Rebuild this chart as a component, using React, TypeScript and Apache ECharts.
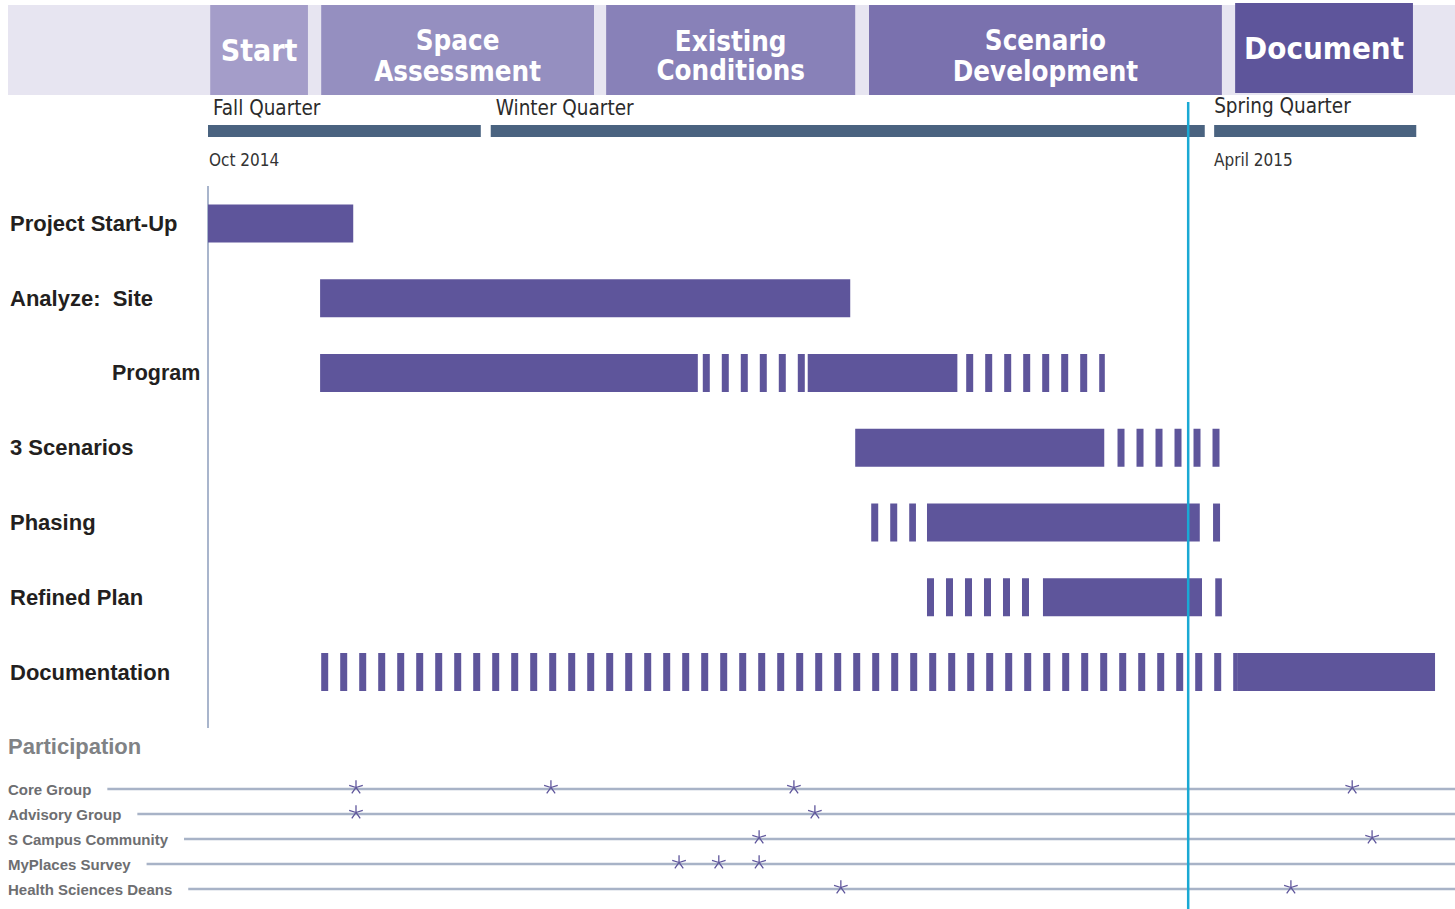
import React, { useEffect, useRef } from "react";
import * as echarts from "echarts";

// x unit: days since 1 Oct 2014
const X_MIN = 0;
const X_MAX = 225;

const phaseNames = ["Start", "Space\nAssessment", "Existing\nConditions", "Scenario\nDevelopment", "Document"];
const phaseStart = [0.4, 20.5, 72.1, 119.7, 186.0];
const phaseEnd = [18.1, 69.9, 117.2, 183.6, 218.2];
const currentPhase = 4;

const quarterNames = ["Fall Quarter", "Winter Quarter", "Spring Quarter"];
const quarterStart = [0, 51.2, 182.2];
const quarterEnd = [49.4, 180.5, 218.8];

const dateLabels = ["Oct 2014", "April 2015"];
const dateDays = [0, 182];

const todayDay = 177.5;

const tasks = ["Project Start-Up", "Analyze:  Site", "Program", "3 Scenarios", "Phasing", "Refined Plan", "Documentation"];

// row, start day, end day, solid (1) or tentative/dashed (0)
const segRow = [0, 1, 2, 2, 2, 2, 3, 3, 4, 4, 4, 5, 5, 5, 6, 6];
const segStart = [0, 20.3, 20.3, 89.6, 108.6, 137.3, 117.2, 164.7, 120.1, 130.2, 182.0, 130.2, 151.2, 182.4, 20.5, 186.5];
const segEnd = [26.3, 116.3, 88.7, 108.1, 135.7, 162.4, 162.3, 183.3, 128.2, 179.6, 183.3, 148.9, 180.0, 183.6, 186.5, 222.2];
const segSolid = [1, 1, 1, 0, 1, 0, 1, 0, 0, 1, 0, 0, 1, 0, 0, 1];

const groups = ["Core Group", "Advisory Group", "S Campus Community", "MyPlaces Survey", "Health Sciences Deans"];
const meetingDay = [26.8, 62.1, 106.1, 207.2, 26.8, 109.9, 99.8, 210.8, 85.3, 92.5, 99.8, 114.6, 196.1];
const meetingGroup = [0, 0, 0, 0, 1, 1, 2, 2, 3, 3, 3, 4, 4];

// styles
const BAR = "#5e559b";
const PHASE_COLORS = ["#a49dc9", "#958fc0", "#8881b8", "#7a71ae", "#5e559b"];
const HEADER_BG = "#e7e5f1";
const QUARTER = "#4a6380";
const TODAY = "#1aa9d4";
const AXIS = "#a9b5cc";
const PLINE = "#a8b3c7";
const NARROW = "'DejaVu Sans Condensed', 'Liberation Sans Narrow', sans-serif";
const SANS = "'Liberation Sans', Arial, sans-serif";

function asteriskPath(): string {
  const len = 10;
  const w = 1.8;
  let d = "";
  for (let i = 0; i < 5; i++) {
    const a = ((-90 + i * 72) * Math.PI) / 180;
    const c = Math.cos(a);
    const s = Math.sin(a);
    const px = (-s * w) / 2;
    const py = (c * w) / 2;
    const f = (n: number) => n.toFixed(3);
    d += `M${f(px)},${f(py)}L${f(c * len + px)},${f(s * len + py)}L${f(c * len - px)},${f(s * len - py)}L${f(-px)},${f(-py)}Z`;
  }
  return "path://" + d;
}

function buildOption(): any {
  const gridLeft = 208;
  const gridRight = 4.5;
  const grids = [
    { left: gridLeft, right: gridRight, top: 5, height: 90 },
    { left: gridLeft, right: gridRight, top: 125, height: 12 },
    { left: gridLeft, right: gridRight, top: 186, height: 523.5 },
    { left: gridLeft, right: gridRight, top: 776.5, height: 125 },
  ];
  const xAxis = grids.map((_, i) => ({ type: "value", gridIndex: i, min: X_MIN, max: X_MAX, show: false }));
  const yAxis: any[] = [
    { type: "value", gridIndex: 0, min: 0, max: 1, show: false },
    { type: "value", gridIndex: 1, min: 0, max: 1, show: false },
    {
      type: "category",
      gridIndex: 2,
      data: tasks,
      inverse: true,
      axisLine: { show: false },
      axisTick: { show: false },
      splitLine: { show: false },
      axisLabel: {
        align: "left",
        margin: 198,
        fontFamily: SANS,
        fontSize: 22,
        fontWeight: "bold",
        color: "#231f20",
        formatter: (v: string) => (v === "Program" ? "{ind|" + v + "}" : v),
        rich: {
          ind: {
            padding: [0, 0, 0, 102],
            fontFamily: SANS,
            fontSize: 21.5,
            fontWeight: "bold",
            color: "#231f20",
          },
        },
      },
    },
    { type: "category", gridIndex: 3, data: groups, inverse: true, show: false },
  ];

  const series: any[] = [
    {
      type: "custom",
      name: "phases",
      xAxisIndex: 0,
      yAxisIndex: 0,
      clip: false,
      data: phaseNames.map((_, i) => [phaseStart[i], 0.5, phaseEnd[i]]),
      encode: { x: [0, 2], y: 1 },
      renderItem: (params: any, api: any) => {
        const i = params.dataIndex;
        const a = api.coord([api.value(0), 0.5])[0];
        const b = api.coord([api.value(2), 0.5])[0];
        const cs = params.coordSys;
        const emph = i === currentPhase;
        const top = cs.y - (emph ? 2 : 0);
        const two = phaseNames[i].indexOf("\n") >= 0;
        return {
          type: "group",
          children: [
            { type: "rect", shape: { x: a, y: top, width: b - a, height: cs.height }, style: { fill: PHASE_COLORS[i] } },
            {
              type: "text",
              x: (a + b) / 2,
              y: two ? top + 50 : top + 45,
              style: {
                text: phaseNames[i],
                fill: "#ffffff",
                fontFamily: NARROW,
                fontWeight: "bold",
                fontSize: emph ? 31 : two ? 27.5 : 30,
                lineHeight: i === 2 ? 29 : 31,
                align: "center",
                verticalAlign: "middle",
              },
            },
          ],
        };
      },
    },
    {
      type: "custom",
      name: "quarters",
      xAxisIndex: 1,
      yAxisIndex: 1,
      clip: false,
      data: quarterNames.map((_, i) => [quarterStart[i], 0.5, quarterEnd[i]]),
      encode: { x: [0, 2], y: 1 },
      renderItem: (params: any, api: any) => {
        const i = params.dataIndex;
        const a = api.coord([api.value(0), 0.5])[0];
        const b = api.coord([api.value(2), 0.5])[0];
        const cs = params.coordSys;
        return {
          type: "group",
          children: [
            { type: "rect", shape: { x: a, y: cs.y, width: b - a, height: cs.height }, style: { fill: QUARTER } },
            {
              type: "text",
              x: a + (i === 2 ? 0 : 5),
              y: cs.y - (i === 2 ? 19 : 17),
              style: {
                text: quarterNames[i],
                fill: "#2b2b2b",
                fontFamily: NARROW,
                fontSize: 20.5,
                align: "left",
                verticalAlign: "middle",
              },
            },
          ],
        };
      },
    },
    {
      type: "custom",
      name: "dates",
      xAxisIndex: 1,
      yAxisIndex: 1,
      clip: false,
      data: dateDays.map((d) => [d, 0.5]),
      renderItem: (params: any, api: any) => {
        const i = params.dataIndex;
        const x = api.coord([api.value(0), 0.5])[0];
        const cs = params.coordSys;
        return {
          type: "text",
          x: x + 1,
          y: cs.y + cs.height + 23,
          style: {
            text: dateLabels[i],
            fill: "#333333",
            fontFamily: NARROW,
            fontSize: 17,
            align: "left",
            verticalAlign: "middle",
          },
        };
      },
    },
    {
      type: "custom",
      name: "tasks",
      xAxisIndex: 2,
      yAxisIndex: 2,
      clip: false,
      data: segRow.map((r, i) => [segStart[i], r, segEnd[i], segSolid[i]]),
      encode: { x: [0, 2], y: 1 },
      renderItem: (params: any, api: any) => {
        const row = api.value(1);
        const p0 = api.coord([api.value(0), row]);
        const p1 = api.coord([api.value(2), row]);
        const h = 38;
        if (api.value(3) === 1) {
          return {
            type: "rect",
            shape: { x: p0[0], y: p0[1] - h / 2, width: p1[0] - p0[0], height: h },
            style: { fill: BAR },
          };
        }
        return {
          type: "line",
          shape: { x1: p0[0], y1: p0[1], x2: p1[0], y2: p1[1] },
          style: { stroke: BAR, lineWidth: h, lineDash: [7, 12], lineCap: "butt", fill: null },
        };
      },
    },
    {
      type: "custom",
      name: "participation",
      xAxisIndex: 3,
      yAxisIndex: 3,
      clip: false,
      z: 2,
      data: groups.map((_, i) => [0, i]),
      renderItem: (params: any, api: any) => {
        const i = params.dataIndex;
        const y = api.coord([0, i])[1];
        return {
          type: "group",
          children: [
            { type: "line", shape: { x1: 8, y1: y, x2: api.getWidth(), y2: y }, style: { stroke: PLINE, lineWidth: 2.5 } },
            {
              type: "text",
              x: 8,
              y: y,
              style: {
                text: groups[i],
                fill: "#6d6e71",
                fontFamily: SANS,
                fontWeight: "bold",
                fontSize: 15,
                align: "left",
                verticalAlign: "middle",
                backgroundColor: "#ffffff",
                padding: [3, 16, 3, 0],
              },
            },
          ],
        };
      },
    },
    {
      type: "scatter",
      name: "meetings",
      xAxisIndex: 3,
      yAxisIndex: 3,
      z: 4,
      symbol: asteriskPath(),
      symbolSize: 14,
      symbolKeepAspect: true,
      symbolOffset: [0, -2],
      itemStyle: { color: BAR, opacity: 1 },
      data: meetingDay.map((d, i) => [d, meetingGroup[i]]),
    },
    {
      type: "custom",
      name: "today",
      xAxisIndex: 2,
      yAxisIndex: 2,
      clip: false,
      z: 10,
      data: [[todayDay, 0]],
      renderItem: (params: any, api: any) => {
        const x = api.coord([api.value(0), 0])[0];
        return {
          type: "line",
          shape: { x1: x, y1: 102, x2: x, y2: api.getHeight() },
          style: { stroke: TODAY, lineWidth: 2.5 },
        };
      },
    },
  ];

  return {
    animation: false,
    backgroundColor: "#ffffff",
    tooltip: { show: false },
    grid: grids,
    xAxis,
    yAxis,
    graphic: [
      { type: "rect", z: 0, shape: { x: 8, y: 5, width: 1447, height: 90 }, style: { fill: HEADER_BG } },
      { type: "line", z: 0, shape: { x1: 208, y1: 186, x2: 208, y2: 728 }, style: { stroke: AXIS, lineWidth: 2 } },
      {
        type: "text",
        z: 0,
        x: 8,
        y: 746,
        style: {
          text: "Participation",
          fill: "#808285",
          fontFamily: SANS,
          fontWeight: "bold",
          fontSize: 22,
          align: "left",
          verticalAlign: "middle",
        },
      },
    ],
    series,
  };
}

export default function App() {
  const ref = useRef<HTMLDivElement>(null);
  useEffect(() => {
    document.body.style.margin = "0";
    const chart = echarts.init(ref.current as HTMLDivElement, null, { renderer: "svg" });
    chart.setOption(buildOption());
    return () => chart.dispose();
  }, []);
  return <div ref={ref} style={{ width: 1455, height: 909 }} />;
}
